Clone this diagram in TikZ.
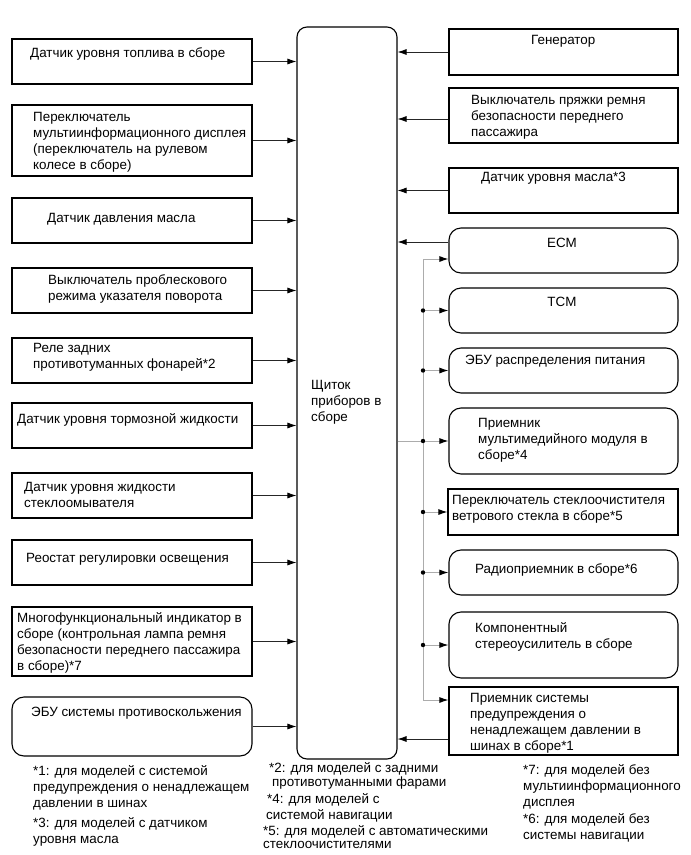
\documentclass[tikz,border=0pt]{standalone}
\usepackage{fontspec}
\setmainfont{Liberation Sans}
\usetikzlibrary{arrows.meta,fit,calc}
\begin{document}
\begin{tikzpicture}[x=1pt,y=-1pt,
  box/.style={draw, line width=1.1pt, inner sep=0pt, rectangle},
  rbox/.style={box, rounded corners=12pt},
  txt/.style={anchor=north west, inner sep=0pt, align=left, font=\fontsize{13.4}{16}\selectfont},
  arr/.style={line width=0.8pt, black!85, -{Latex[length=9pt,width=6pt,color=black]}},
  bus/.style={line width=1pt, gray!65},
  busarr/.style={bus, -{Latex[length=9pt,width=6pt,color=black]}},
  dot/.style={circle, fill=black, inner sep=0pt, minimum size=4.4pt}]
\useasboundingbox (0,0) rectangle (691,855);

% centre
\node[box, rounded corners=10pt, fit={(297,27) (397,759)}] (c) {};
\node[txt] (ct) at (311,380) {Щиток\\приборов в\\сборе};

% left boxes
\node[box, fit={(12,39) (252,84)}] (l1) {};
\node[box, fit={(12,105) (252,176)}] (l2) {};
\node[box, fit={(12,198) (252,243)}] (l3) {};
\node[box, fit={(12,268) (252,313)}] (l4) {};
\node[box, fit={(12,338) (252,383)}] (l5) {};
\node[box, fit={(12,403) (252,448)}] (l6) {};
\node[box, fit={(12,473) (252,518)}] (l7) {};
\node[box, fit={(12,540) (252,585)}] (l8) {};
\node[box, fit={(12,607) (252,676)}] (l9) {};
\node[rbox, fit={(12,697) (252,756)}] (l10) {};

\node[txt] (t1) at (30,47) {Датчик уровня топлива в сборе};
\node[txt] (t2) at (33,112) {Переключатель\\мультиинформационного дисплея\\(переключатель на рулевом\\колесе в сборе)};
\node[txt] (t3) at (47,213) {Датчик давления масла};
\node[txt] (t4) at (48,274) {Выключатель проблескового\\режима указателя поворота};
\node[txt] (t5) at (33,343) {Реле задних\\противотуманных фонарей*2};
\node[txt] (t6) at (17,413) {Датчик уровня тормозной жидкости};
\node[txt] (t7) at (24,482) {Датчик уровня жидкости\\стеклоомывателя};
\node[txt] (t8) at (26,553) {Реостат регулировки освещения};
\node[txt] (t9) at (17,612) {Многофункциональный индикатор в\\сборе (контрольная лампа ремня\\безопасности переднего пассажира\\в сборе)*7};
\node[txt] (t10) at (31,707) {ЭБУ системы противоскольжения};

\foreach \n in {l1,l2,l3,l4,l5,l6,l7,l8,l9,l10}
  \draw[arr] (\n.east) -- (\n.east -| c.west);

% right boxes
\node[box, fit={(449,29) (678,75)}] (r1) {};
\node[box, fit={(449,88) (678,143)}] (r2) {};
\node[box, fit={(449,168) (678,213)}] (r3) {};
\node[rbox, fit={(449,228) (678,273)}] (r4) {};
\node[rbox, fit={(449,288) (678,333)}] (r5) {};
\node[rbox, fit={(449,348) (678,393)}] (r6) {};
\node[rbox, fit={(449,408) (678,474)}] (r7) {};
\node[box, fit={(448,489) (678,535)}] (r8) {};
\node[rbox, fit={(449,550) (678,595)}] (r9) {};
\node[rbox, fit={(449,612) (678,678)}] (r10) {};
\node[box, fit={(449,687) (678,755)}] (r11) {};

\node[txt] (s1) at (531,35) {Генератор};
\node[txt] (s2) at (471,95) {Выключатель пряжки ремня\\безопасности переднего\\пассажира};
\node[txt] (s3) at (481,172) {Датчик уровня масла*3};
\node[txt, anchor=north] (s4) at (562,238) {ECM};
\node[txt, anchor=north] (s5) at (562,297) {TCM};
\node[txt] (s6) at (465,355) {ЭБУ распределения питания};
\node[txt] (s7) at (478,418) {Приемник\\мультимедийного модуля в\\сборе*4};
\node[txt] (s8) at (452,495) {Переключатель стеклоочистителя\\ветрового стекла в сборе*5};
\node[txt] (s9) at (475,563) {Радиоприемник в сборе*6};
\node[txt] (s10) at (475,622) {Компонентный\\стереоусилитель в сборе};
\node[txt] (s11) at (470,693) {Приемник системы\\предупреждения о\\ненадлежащем давлении в\\шинах в сборе*1};

% inputs from the right
\draw[arr] (r1.west) -- (r1.west -| c.east);
\draw[arr] ([yshift=-3.5pt]r2.west) -- ([yshift=-3.5pt]r2.west -| c.east);
\draw[arr] (r3.west) -- (r3.west -| c.east);
\draw[arr] ([yshift=8.5pt]r4.west) -- ([yshift=8.5pt]r4.west -| c.east);
\draw[arr] ([yshift=-18pt]r11.west) -- ([yshift=-18pt]r11.west -| c.east);

% output bus
\coordinate (btop) at (423,259);
\coordinate (bbot) at (423,700);
\coordinate (bj) at (423,441);
\draw[bus] (c.east |- bj) -- (bj);
\draw[bus] (btop) -- (bbot);
\draw[busarr] (btop) -- (btop -| r4.west);
\draw[busarr] (bbot) -- (bbot -| r11.west);
\foreach \n in {r5,r6,r7,r8,r9,r10}{
  \draw[busarr] (\n.west -| btop) -- (\n.west);
  \node[dot] at (\n.west -| btop) {};
}

% footnotes
\node[txt] (f1) at (33,765) {*1: для моделей с системой\\предупреждения о ненадлежащем\\давлении в шинах};
\node[txt] (f3) at (33,817) {*3: для моделей с датчиком\\уровня масла};
\node[txt] (f2a) at (269,762) {*2: для моделей с задними};
\node[txt] (f2b) at (272,777) {противотуманными фарами};
\node[txt] (f4a) at (267,793) {*4: для моделей с};
\node[txt] (f4b) at (266,809) {системой навигации};
\node[txt] (f5a) at (263,825) {*5: для моделей с автоматическими};
\node[txt] (f5b) at (263,841) {стеклоочистителями};
\node[txt] (f7) at (523,764) {*7: для моделей без\\мультиинформационного\\дисплея};
\node[txt] (f6) at (523,813) {*6: для моделей без\\системы навигации};
\end{tikzpicture}
\end{document}
